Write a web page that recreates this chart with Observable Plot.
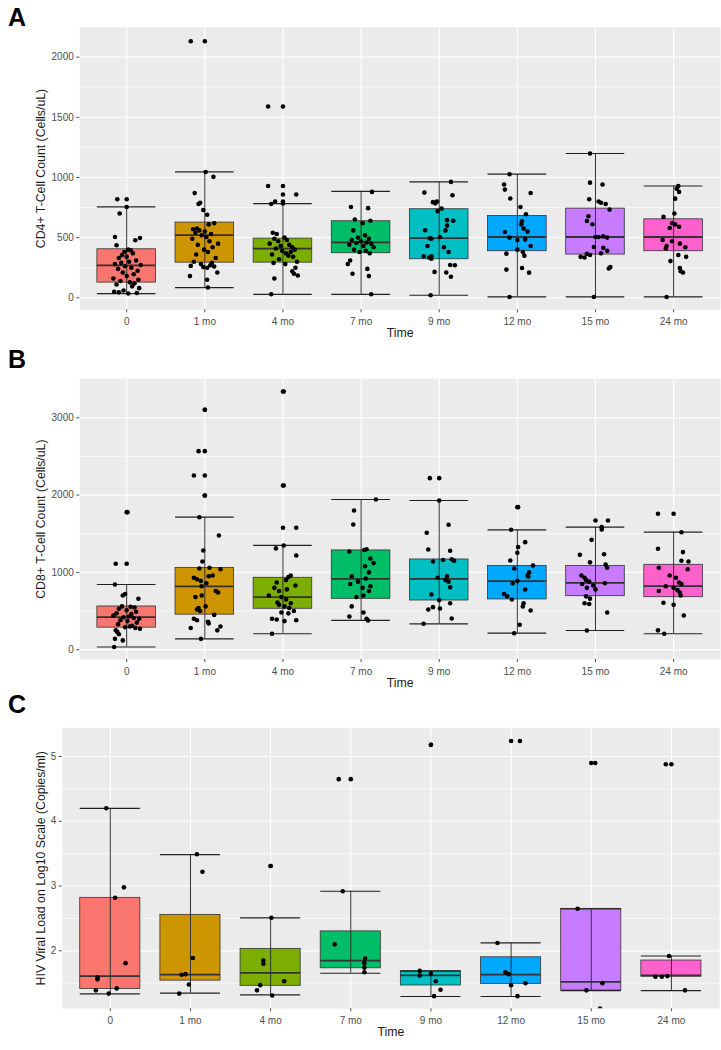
<!DOCTYPE html>
<html>
<head>
<meta charset="utf-8">
<script src="https://cdn.jsdelivr.net/npm/d3@7"></script>
<script src="https://cdn.jsdelivr.net/npm/@observablehq/plot@0.6"></script>
<style>
  html, body { margin: 0; padding: 0; background: #fff; }
  #wrap { position: relative; width: 721px; height: 1050px; background: #fff; font-family: "Liberation Sans", Arial, sans-serif; }
  .panel { position: absolute; left: 0; }
  .letter { position: absolute; left: 8px; font-size: 25px; font-weight: bold; line-height: 1; color: #000; }
</style>
</head>
<body>
<div id="wrap">
  <div class="letter" style="top:5px">A</div>
  <div class="letter" style="top:347px">B</div>
  <div class="letter" style="top:692px">C</div>
</div>
<script>
// ---- Categories and colours ----
const times = ["0", "1 mo", "4 mo", "7 mo", "9 mo", "12 mo", "15 mo", "24 mo"];
const colors = ["#F8766D", "#CD9600", "#7CAE00", "#00BE67", "#00BFC4", "#00A9FF", "#C77CFF", "#FF61CC"];

// ---- Panel A: CD4+ T-cell count ----
const A_q1  = [126, 292, 292, 370, 320, 387, 359, 387];
const A_med = [270, 520, 409, 461, 495, 505, 505, 505];
const A_q3  = [403, 625, 492, 636, 736, 680, 741, 652];
const A_lo  = [35, 85, 29, 29, 21, 7, 7, 7];
const A_hi  = [755, 1046, 783, 885, 963, 1027, 1199, 929];
const A_out = [[819], [2132], [1590, 929, 858, 800], [], [], [], [], []];
// jittered observations: [value, horizontal jitter in category units]
const A_pts = [
  [[819,-0.12],[755,0.0],[700,-0.09],[505,-0.15],[478,0.11],[497,0.17],[436,-0.13],[400,0.02],[395,0.05],[380,-0.03],[370,0.08],[355,-0.06],[340,0.0],[330,-0.1],[310,0.12],[300,0.03],[290,-0.07],[280,-0.15],[272,0.18],[262,-0.02],[250,0.06],[240,-0.11],[225,0.14],[210,-0.05],[195,0.09],[180,0.0],[160,-0.17],[150,0.15],[140,-0.08],[128,0.04],[120,0.1],[110,-0.13],[95,0.07],[80,0.16],[60,-0.04],[50,-0.16],[45,-0.1],[40,0.13],[35,0.02]],
  [[2132,-0.18],[1046,0.01],[1005,0.11],[870,-0.13],[790,-0.06],[780,-0.08],[730,-0.02],[690,0.03],[620,0.12],[610,0.05],[575,-0.1],[570,-0.15],[560,-0.07],[550,0.0],[540,-0.12],[530,0.08],[520,-0.04],[505,0.02],[490,-0.16],[470,0.06],[450,0.17],[440,-0.09],[420,0.1],[400,-0.01],[380,0.04],[360,-0.11],[330,0.14],[300,-0.14],[290,0.09],[280,-0.05],[270,0.07],[265,-0.18],[260,0.12],[255,-0.02],[250,0.03],[210,0.16],[180,-0.19],[150,0.03],[85,0.04]],
  [[1590,-0.19],[929,-0.19],[858,0.17],[800,-0.1],[783,0.0],[780,-0.15],[540,-0.13],[530,-0.08],[500,0.02],[490,-0.11],[480,0.05],[470,-0.06],[450,-0.17],[440,0.08],[430,-0.03],[420,0.12],[410,-0.09],[400,0.15],[390,-0.01],[380,0.1],[370,0.04],[360,-0.14],[350,0.07],[340,0.13],[320,-0.05],[300,0.18],[290,-0.12],[280,0.03],[250,0.16],[220,0.12],[200,0.14],[185,0.19],[160,-0.11],[29,-0.15]],
  [[880,0.14],[755,-0.13],[745,0.09],[650,-0.08],[640,0.12],[620,0.02],[560,-0.1],[520,0.05],[500,-0.04],[490,0.1],[480,-0.12],[470,0.0],[460,0.07],[455,-0.06],[450,0.13],[440,-0.15],[430,0.03],[420,0.16],[400,-0.09],[390,0.06],[380,-0.02],[370,0.11],[310,-0.14],[280,-0.17],[240,0.08],[200,-0.11],[180,0.1],[29,0.13]],
  [[963,0.15],[874,-0.19],[852,0.17],[795,-0.08],[785,-0.05],[800,-0.03],[741,0.03],[720,-0.02],[645,0.1],[640,0.18],[600,0.1],[561,-0.18],[560,0.08],[495,-0.12],[490,-0.1],[505,0.01],[430,-0.15],[420,0.06],[380,0.12],[345,-0.2],[335,-0.13],[345,-0.1],[325,-0.1],[273,0.14],[270,0.2],[215,-0.06],[210,0.09],[175,0.15],[21,-0.11]],
  [[1027,-0.1],[941,-0.17],[899,-0.16],[871,0.17],[825,-0.09],[755,0.04],[694,0.11],[636,0.06],[610,0.05],[575,0.08],[550,0.13],[547,-0.16],[500,-0.1],[485,0.1],[480,0.0],[430,0.17],[400,0.0],[380,0.07],[367,-0.14],[350,0.09],[248,0.06],[234,-0.14],[209,0.15],[7,-0.1]],
  [[1199,-0.07],[957,-0.07],[941,0.09],[819,-0.08],[800,0.04],[790,0.07],[780,0.13],[733,0.18],[677,-0.09],[638,-0.11],[611,-0.04],[505,0.0],[505,0.04],[510,0.1],[500,0.15],[422,-0.02],[415,0.1],[390,0.15],[370,0.07],[365,-0.11],[355,-0.07],[340,-0.19],[335,-0.14],[243,0.17],[255,0.19],[7,-0.02]],
  [[929,0.06],[907,0.04],[880,0.07],[824,0.02],[700,0.01],[672,-0.13],[620,-0.02],[610,0.02],[580,-0.05],[590,0.07],[480,-0.14],[430,-0.09],[410,-0.1],[470,-0.02],[450,0.08],[420,0.15],[355,0.06],[340,0.16],[305,-0.04],[248,0.08],[220,0.09],[210,0.12],[7,-0.09]]
];

// ---- Panel B: CD8+ T-cell count ----
const B_q1  = [285, 453, 529, 658, 636, 650, 692, 679];
const B_med = [421, 818, 679, 917, 917, 887, 865, 822];
const B_q3  = [559, 1057, 930, 1284, 1167, 1084, 1084, 1098];
const B_lo  = [35, 140, 206, 378, 335, 213, 248, 206];
const B_hi  = [843, 1714, 1348, 1943, 1930, 1551, 1585, 1520];
const B_out = [[1779, 1111], [3103, 2568, 2253, 1995], [3340, 2124, 1577], [], [2219], [1844], [], [1758]];
const B_pts = [
  [[1779,0.01],[1111,-0.14],[843,-0.15],[720,-0.02],[700,-0.05],[658,0.15],[560,-0.06],[555,0.05],[545,0.1],[530,-0.1],[510,0.0],[490,0.12],[470,-0.13],[460,0.06],[440,-0.17],[430,0.03],[420,-0.04],[410,0.09],[400,0.16],[380,-0.08],[370,0.01],[350,0.13],[330,-0.11],[310,0.07],[300,0.04],[290,-0.02],[280,0.11],[270,0.17],[250,-0.14],[230,-0.12],[200,-0.1],[140,-0.15],[120,-0.05],[35,-0.16]],
  [[3103,0.0],[2568,-0.08],[2253,-0.14],[1995,0.0],[1714,-0.07],[1477,0.18],[1283,-0.02],[1140,-0.03],[1060,0.06],[1050,-0.07],[1040,0.2],[960,0.1],[950,0.05],[930,-0.14],[910,-0.1],[890,-0.05],[860,0.02],[820,-0.04],[760,0.14],[740,0.17],[700,-0.04],[680,-0.12],[560,0.01],[540,-0.08],[520,-0.1],[500,-0.06],[450,0.12],[400,-0.14],[380,-0.1],[360,0.04],[340,0.05],[300,0.2],[280,-0.18],[250,0.16],[140,-0.05]],
  [[3340,0.01],[2124,0.01],[1577,0.17],[1348,0.01],[1310,-0.09],[1219,0.17],[960,0.1],[940,0.07],[900,0.04],[870,-0.08],[830,0.16],[800,-0.11],[780,0.05],[760,-0.05],[700,-0.18],[680,-0.02],[650,0.04],[610,-0.07],[600,0.1],[580,-0.05],[560,0.02],[540,0.08],[500,0.14],[480,-0.02],[470,0.07],[400,-0.14],[390,-0.08],[380,0.17],[370,0.02],[206,-0.14]],
  [[1943,0.19],[1800,-0.09],[1620,-0.1],[1300,0.07],[1290,0.04],[1270,-0.15],[1180,0.12],[1120,0.16],[1080,0.05],[1000,0.1],[950,-0.12],[920,0.06],[880,-0.04],[850,-0.14],[820,0.12],[800,0.02],[760,0.1],[700,0.03],[680,-0.06],[560,-0.12],[480,0.03],[430,-0.15],[400,0.07],[378,0.09]],
  [[2219,-0.12],[1930,0.0],[1616,0.12],[1512,-0.16],[1296,-0.14],[1280,0.14],[1141,-0.08],[1160,0.05],[1170,0.16],[1150,0.19],[930,-0.02],[900,0.08],[950,0.1],[880,0.12],[808,0.14],[714,-0.1],[640,0.0],[600,0.14],[550,-0.08],[533,0.01],[520,-0.14],[404,0.16],[335,-0.2]],
  [[1844,0.01],[1551,-0.08],[1391,0.1],[1327,0.01],[1253,0.0],[1154,-0.09],[1089,0.2],[1050,-0.04],[1000,0.15],[960,0.13],[947,0.14],[887,0.0],[860,-0.06],[779,0.1],[720,-0.17],[690,-0.13],[650,-0.07],[600,0.08],[560,0.07],[506,0.17],[322,0.03],[213,-0.04]],
  [[1671,0.0],[1671,0.16],[1585,0.08],[1555,0.08],[1421,-0.05],[1227,-0.2],[1235,0.11],[1130,-0.07],[1100,0.13],[1060,0.15],[960,-0.18],[930,-0.14],[900,-0.12],[880,-0.08],[860,0.12],[850,-0.17],[830,-0.03],[800,-0.11],[780,0.0],[690,-0.12],[660,-0.07],[600,-0.14],[590,-0.08],[480,0.15],[248,-0.11]],
  [[1758,-0.2],[1520,0.1],[1305,-0.2],[1262,0.12],[1150,0.1],[1140,0.19],[1060,-0.19],[1040,0.18],[960,-0.05],[930,0.03],[870,0.07],[850,0.1],[820,-0.1],[800,0.0],[770,0.05],[760,-0.19],[740,0.08],[700,0.09],[607,-0.13],[580,0.0],[442,0.13],[250,-0.2],[206,-0.12]]
];

// ---- Panel C: HIV viral load (log10) ----
const C_q1  = [1.41, 1.54, 1.46, 1.73, 1.465, 1.49, 1.387, 1.6];
const C_med = [1.608, 1.634, 1.66, 1.85, 1.62, 1.634, 1.52, 1.62];
const C_q3  = [2.818, 2.555, 2.03, 2.3, 1.686, 1.9, 2.648, 1.85];
const C_lo  = [1.336, 1.346, 1.32, 1.654, 1.295, 1.295, 1.387, 1.387];
const C_hi  = [4.2, 3.486, 2.51, 2.92, 1.686, 2.123, 2.648, 1.92];
const C_out = [[], [], [3.31], [4.65], [5.18], [5.24], [4.9], [4.88]];
const C_pts = [
  [[4.2,-0.05],[2.98,0.17],[2.82,0.06],[1.81,0.19],[1.59,-0.16],[1.56,-0.16],[1.39,-0.18],[1.34,-0.02],[1.42,0.08]],
  [[3.49,0.08],[3.22,0.15],[1.89,0.03],[1.63,-0.11],[1.64,-0.06],[1.48,-0.02],[1.34,-0.14]],
  [[3.31,0.0],[2.51,0.01],[1.85,-0.09],[1.8,-0.09],[1.47,-0.13],[1.39,-0.17],[1.53,0.17],[1.31,0.02]],
  [[4.65,-0.15],[2.92,-0.1],[2.1,-0.2],[1.88,0.18],[1.81,0.17],[1.74,0.17],[1.67,0.17]],
  [[5.18,0.0],[1.69,-0.14],[1.62,-0.14],[1.65,0.0],[1.53,0.06],[1.4,0.12],[1.3,0.04]],
  [[5.24,0.11],[2.12,-0.17],[1.67,-0.07],[1.64,-0.03],[1.47,0.0],[1.5,0.18],[1.3,0.08]],
  [[4.9,0.05],[2.65,-0.17],[1.39,-0.06],[1.5,0.14],[1.11,0.11]],
  [[4.88,-0.07],[1.92,-0.03],[1.6,-0.2],[1.6,-0.12],[1.61,-0.05],[1.39,0.17]]
];

// ---- Axis settings ----
const A_ticks = [0, 500, 1000, 1500, 2000];
const A_minor = [250, 750, 1250, 1750];
const B_ticks = [0, 1000, 2000, 3000];
const B_minor = [500, 1500, 2500];
const C_ticks = [2, 3, 4, 5];
const C_minor = [1.5, 2.5, 3.5, 4.5];

const FONT = "'Liberation Sans', Arial, Helvetica, sans-serif";
const BOXW = 0.75;
const idx = times.map((_, i) => i);

function panel(cfg) {
  const stats = times.map((t, i) => ({time: t, i, q1: cfg.q1[i], med: cfg.med[i], q3: cfg.q3[i], lo: cfg.lo[i], hi: cfg.hi[i]}));
  const outs = cfg.out.flatMap((arr, i) => arr.map(v => ({i, v})));
  const pts = cfg.pts.flatMap((arr, i) => arr.map(([v, j]) => ({i, v, j})));
  const x1 = d => d.i - BOXW / 2, x2 = d => d.i + BOXW / 2;
  return Plot.plot({
    width: 721,
    height: cfg.height,
    marginTop: cfg.mt, marginBottom: cfg.mb, marginLeft: cfg.ml, marginRight: cfg.mr,
    style: {fontFamily: FONT, fontSize: "10px", color: "#4d4d4d", background: "transparent", overflow: "visible"},
    x: {type: "linear", domain: [-0.6, 7.6], axis: null},
    y: {domain: cfg.domain, axis: null},
    color: {domain: times, range: colors},
    marks: [
      Plot.frame({fill: "#EBEBEB", stroke: null}),
      Plot.ruleY(cfg.minor, {stroke: "white", strokeWidth: 0.6}),
      Plot.ruleY(cfg.ticks, {stroke: "white", strokeWidth: 1.15}),
      Plot.ruleX(idx, {stroke: "white", strokeWidth: 1.15}),
      Plot.rect(stats, {x1, x2, y1: "q1", y2: "q3", fill: "time", stroke: "#333333", strokeWidth: 0.8}),
      Plot.ruleY(stats, {x1, x2, y: "med", stroke: "#333333", strokeWidth: 1.8}),
      Plot.ruleX(stats, {x: "i", y1: "lo", y2: "hi", stroke: "#333333", strokeWidth: 1}),
      Plot.ruleY(stats, {x1, x2, y: "lo", stroke: "#222222", strokeWidth: 1.2}),
      Plot.ruleY(stats, {x1, x2, y: "hi", stroke: "#222222", strokeWidth: 1.2}),
      Plot.dot(outs, {x: "i", y: "v", r: 2.3, fill: "black", clip: true}),
      Plot.dot(pts, {x: d => d.i + d.j, y: "v", r: 2.3, fill: "black", clip: true}),
      Plot.axisX(idx, {tickFormat: i => times[i], tickSize: 3, tickPadding: 5.5, label: null, color: "#4d4d4d", fontSize: 10}),
      Plot.axisY(cfg.ticks, {tickFormat: d => String(d), tickSize: 3, tickPadding: 3, label: null, color: "#4d4d4d", fontSize: 10}),
      Plot.text([cfg.ylabel], {frameAnchor: "left", dx: 41 - cfg.ml, rotate: -90, fontSize: 12.3, fill: "#1a1a1a", textAnchor: "middle"}),
      Plot.text(["Time"], {frameAnchor: "bottom", dy: 27, fontSize: 12.3, fill: "#1a1a1a", textAnchor: "middle"})
    ]
  });
}

const wrap = document.getElementById("wrap");
const configs = [
  {top: 0, height: 345, mt: 26.7, mb: 35.7, ml: 79.3, mr: 1, domain: [-100, 2249],
   q1: A_q1, med: A_med, q3: A_q3, lo: A_lo, hi: A_hi, out: A_out, pts: A_pts,
   ticks: A_ticks, minor: A_minor, ylabel: "CD4+ T-Cell Count (Cells/uL)"},
  {top: 345, height: 345, mt: 33.3, mb: 31, ml: 79.3, mr: 1, domain: [-127, 3504],
   q1: B_q1, med: B_med, q3: B_q3, lo: B_lo, hi: B_hi, out: B_out, pts: B_pts,
   ticks: B_ticks, minor: B_minor, ylabel: "CD8+ T-Cell Count (Cells/uL)"},
  {top: 690, height: 360, mt: 37.3, mb: 41.7, ml: 61.7, mr: 2, domain: [1.105, 5.443],
   q1: C_q1, med: C_med, q3: C_q3, lo: C_lo, hi: C_hi, out: C_out, pts: C_pts,
   ticks: C_ticks, minor: C_minor, ylabel: "HIV Viral Load on Log10 Scale (Copies/ml)"}
];
for (const cfg of configs) {
  const svg = panel(cfg);
  const holder = document.createElement("div");
  holder.className = "panel";
  holder.style.top = cfg.top + "px";
  holder.appendChild(svg);
  wrap.insertBefore(holder, wrap.firstChild);
}
</script>
</body>
</html>
